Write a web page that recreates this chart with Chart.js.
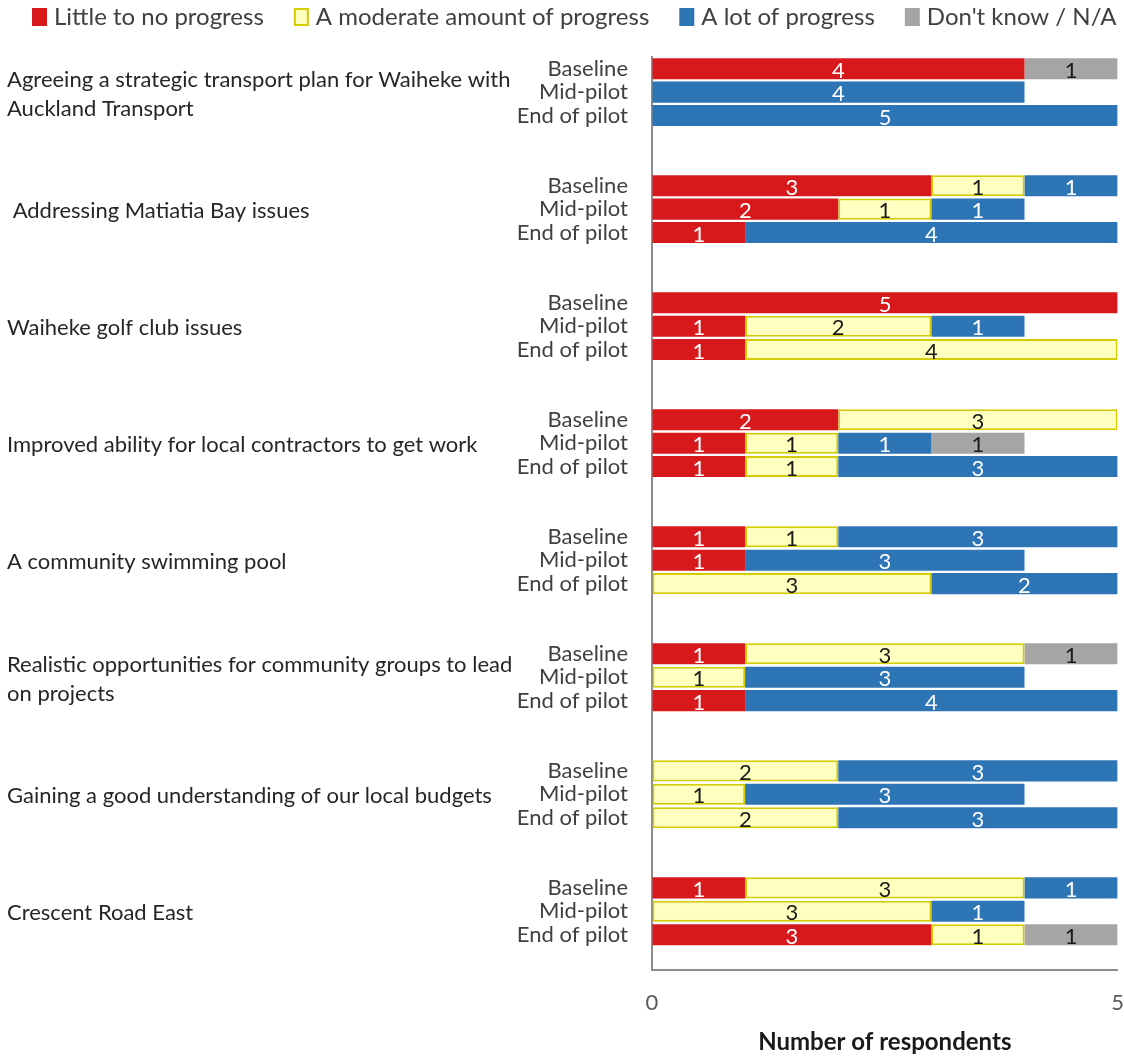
<!DOCTYPE html>
<html>
<head>
<meta charset="utf-8">
<script src="https://cdn.jsdelivr.net/npm/chart.js@4/dist/chart.umd.min.js"></script>
<style>
  html, body { margin: 0; padding: 0; background: #fff; }
  #wrap { width: 1124px; height: 1059px; }
</style>
</head>
<body>
<div id="wrap"><canvas id="grafica"></canvas></div>
<script>
// Temas (cada uno con 3 filas: Baseline, Mid-pilot, End of pilot)
const topics = [
  ['Agreeing a strategic transport plan for Waiheke with', 'Auckland Transport'],
  [' Addressing Matiatia Bay issues'],
  ['Waiheke golf club issues'],
  ['Improved ability for local contractors to get work'],
  ['A community swimming pool'],
  ['Realistic opportunities for community groups to lead', 'on projects'],
  ['Gaining a good understanding of our local budgets'],
  ['Crescent Road East']
];
const phases = ['Baseline', 'Mid-pilot', 'End of pilot'];

// Valores por serie, en orden tema -> fase
const little   = [4,0,0, 3,2,1, 5,1,1, 2,1,1, 1,1,0, 1,0,1, 0,0,0, 1,0,3];
const moderate = [0,0,0, 1,1,0, 0,2,4, 3,1,1, 1,0,3, 3,1,0, 2,1,2, 3,3,1];
const lot      = [0,4,5, 1,1,4, 0,1,0, 0,1,3, 3,3,2, 0,3,4, 3,3,3, 1,1,0];
const dontKnow = [1,0,0, 0,0,0, 0,0,0, 0,1,0, 0,0,0, 1,0,0, 0,0,0, 0,0,1];

const xTicks = [0, 5];

// Filas del eje: 3 fases + 2 huecos entre temas, y un hueco final
const labels = [];
const slotOf = [];
topics.forEach((t, g) => {
  phases.forEach(p => { slotOf.push(labels.length); labels.push(p); });
  labels.push('');
  if (g < topics.length - 1) labels.push('');
});

function toSlots(arr) {
  const out = labels.map(() => null);
  arr.forEach((v, i) => { out[slotOf[i]] = v; });
  return out;
}

const FONT = 'Lato, "Open Sans", sans-serif';

// Numeros dentro de las barras
const etiquetas = {
  id: 'etiquetas',
  afterDatasetsDraw(chart) {
    const ctx = chart.ctx;
    ctx.save();
    ctx.font = '22px ' + FONT;
    ctx.textAlign = 'center';
    ctx.textBaseline = 'middle';
    chart.data.datasets.forEach((ds, i) => {
      const meta = chart.getDatasetMeta(i);
      meta.data.forEach((bar, j) => {
        const v = ds.data[j];
        if (!v) return;
        ctx.fillStyle = ds.labelColor;
        ctx.fillText(String(v), (bar.x + bar.base) / 2, bar.y + 2);
      });
    });
    ctx.restore();
  }
};

// Nombres de los temas a la izquierda
const temas = {
  id: 'temas',
  afterDraw(chart) {
    const ctx = chart.ctx;
    const y = chart.scales.y;
    ctx.save();
    ctx.font = '22px ' + FONT;
    ctx.fillStyle = '#262626';
    ctx.textAlign = 'left';
    ctx.textBaseline = 'middle';
    topics.forEach((lines, g) => {
      const yc = y.getPixelForValue(slotOf[g * 3 + 1]) + 2;
      lines.forEach((line, k) => {
        ctx.fillText(line, 7, yc + (k - (lines.length - 1) / 2) * 29);
      });
    });
    ctx.restore();
  }
};

// Leyenda arriba
const leyenda = {
  id: 'leyenda',
  afterDraw(chart) {
    const ctx = chart.ctx;
    ctx.save();
    ctx.font = '24px ' + FONT;
    ctx.textBaseline = 'middle';
    ctx.textAlign = 'left';
    let x = 32;
    const y = 17;
    chart.data.datasets.forEach(ds => {
      ctx.fillStyle = ds.backgroundColor;
      ctx.fillRect(x, y - 9, 15, 18);
      if (ds.borderWidth) {
        ctx.strokeStyle = ds.borderColor;
        ctx.lineWidth = 2;
        ctx.strokeRect(x + 1, y - 8, 13, 16);
      }
      ctx.fillStyle = '#404040';
      ctx.fillText(ds.label, x + 22, y);
      x += 22 + ctx.measureText(ds.label).width + 30;
    });
    ctx.restore();
  }
};

const ctx = document.getElementById('grafica').getContext('2d');
new Chart(ctx, {
  type: 'bar',
  data: {
    labels: labels,
    datasets: [
      { label: 'Little to no progress', data: toSlots(little), backgroundColor: '#D7191C', borderWidth: 0, labelColor: '#ffffff' },
      { label: 'A moderate amount of progress', data: toSlots(moderate), backgroundColor: '#FFFFC0', borderColor: '#D2CC00', borderWidth: 2, borderSkipped: false, labelColor: '#1a1a1a' },
      { label: 'A lot of progress', data: toSlots(lot), backgroundColor: '#2E75B6', borderWidth: 0, labelColor: '#ffffff' },
      { label: 'Don\'t know / N/A', data: toSlots(dontKnow), backgroundColor: '#A5A5A5', borderWidth: 0, labelColor: '#1a1a1a' }
    ]
  },
  options: {
    indexAxis: 'y',
    responsive: true,
    maintainAspectRatio: false,
    animation: false,
    barPercentage: 0.9,
    categoryPercentage: 1.0,
    layout: { padding: { top: 57, right: 0, left: 0, bottom: 2 } },
    plugins: {
      legend: { display: false },
      tooltip: { enabled: false }
    },
    scales: {
      x: {
        stacked: true,
        min: 0,
        max: 5,
        afterBuildTicks(s) { s.ticks = xTicks.map(v => ({ value: v })); },
        ticks: { padding: 0, color: '#595959', font: { family: FONT, size: 22 } },
        grid: { display: true, drawOnChartArea: false, drawTicks: true, tickLength: 20, tickColor: 'rgba(0,0,0,0)' },
        border: { display: true, color: '#8c8c8c', width: 2 },
        title: {
          display: true,
          text: 'Number of respondents',
          color: '#1a1a1a',
          font: { family: FONT, size: 24, weight: 'bold' },
          padding: { top: 12, bottom: 0 }
        }
      },
      y: {
        stacked: true,
        ticks: { autoSkip: false, padding: 24, color: '#404040', font: { family: FONT, size: 22 } },
        grid: { display: false, drawTicks: false },
        border: { display: true, color: '#8c8c8c', width: 2 },
        afterFit(s) { s.width = 652; }
      }
    }
  },
  plugins: [etiquetas, temas, leyenda]
});
</script>
</body>
</html>
